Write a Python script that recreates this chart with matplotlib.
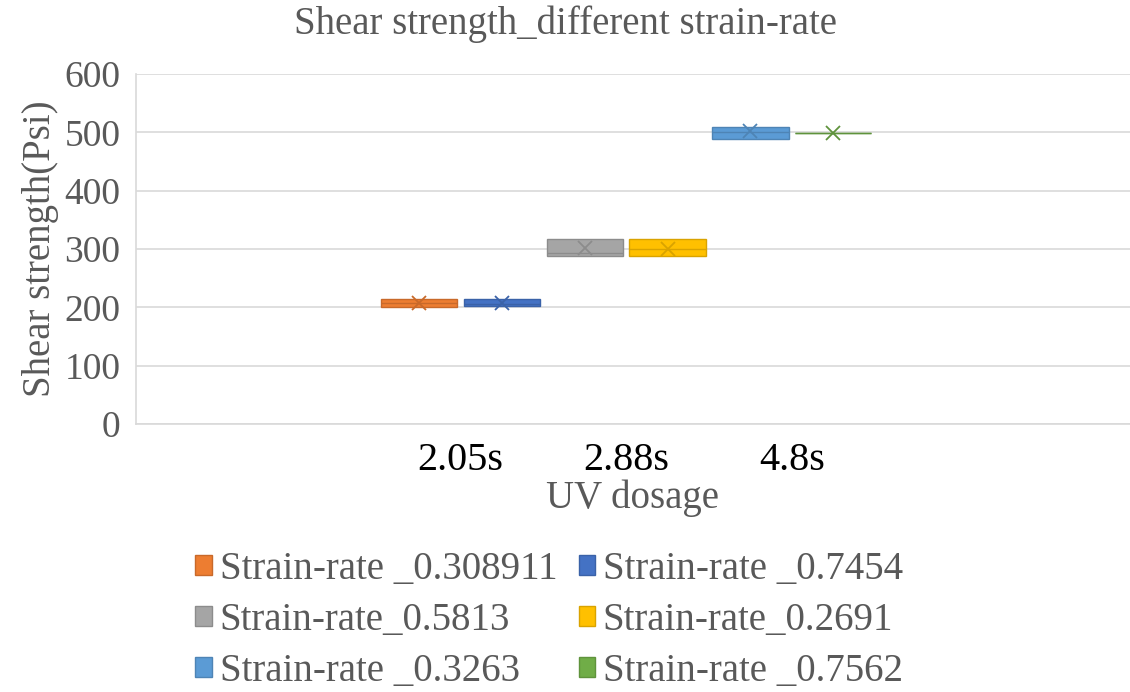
import numpy as np
import matplotlib.pyplot as plt
from matplotlib.patches import Patch

# UV dosage categories
categories = ["2.05s", "2.88s", "4.8s"]

# series (two strain-rates per UV dosage)
series = ["Strain-rate _0.308911", "Strain-rate _0.7454",
          "Strain-rate_0.5813", "Strain-rate_0.2691",
          "Strain-rate _0.3263", "Strain-rate _0.7562"]
series_cat = [0, 0, 1, 1, 2, 2]

# box statistics (Psi)
q1 = [201, 202, 288, 288, 489, 499]
median = [207, 206, 294, 300, 500, 499]
q3 = [214, 214, 317, 317, 510, 499]
mean = [207, 207, 302, 301, 502, 499]

colors = ["#ED7D31", "#4472C4", "#A5A5A5", "#FFC000", "#5B9BD5", "#70AD47"]
edges = ["#C8692A", "#3A62A8", "#8C8C8C", "#D9A300", "#4E84B5", "#5F933C"]

plt.rcParams['font.family'] = ['Liberation Serif', 'DejaVu Serif']
grey = "#595959"

fig = plt.figure(figsize=(11.3, 6.92), dpi=100)
ax = fig.add_axes([0.12, 0.387, 0.88, 0.506])

offsets = [-0.25, 0.25]
for i in range(len(series)):
    pos = 2 + series_cat[i] + offsets[i % 2]
    st = dict(q1=q1[i], med=median[i], q3=q3[i], whislo=q1[i], whishi=q3[i],
              mean=mean[i], fliers=[])
    ax.bxp([st], positions=[pos], widths=0.46, patch_artist=True, showmeans=True,
           showcaps=False,
           boxprops=dict(facecolor=colors[i], edgecolor=edges[i], linewidth=1.0),
           medianprops=dict(color=edges[i], linewidth=1.0),
           whiskerprops=dict(color=edges[i], linewidth=1.0),
           meanprops=dict(marker='x', markeredgecolor=edges[i], markersize=10,
                          markeredgewidth=1.3),
           zorder=3)

ax.set_xlim(0.04, 6.04)
ax.set_ylim(0, 600)
ax.set_yticks(np.arange(0, 601, 100))
ax.set_xticks([2, 3, 4])
ax.set_xticklabels(categories, fontsize=29, color='black')
ax.tick_params(axis='y', labelsize=27, labelcolor=grey, length=0, pad=11)
ax.tick_params(axis='x', length=0, pad=13)
ax.grid(axis='y', color='#D9D9D9', linewidth=1.2, zorder=0)
for s in ['top', 'right']:
    ax.spines[s].set_visible(False)
for s in ['left', 'bottom']:
    ax.spines[s].set_color('#D9D9D9')
    ax.spines[s].set_linewidth(1.2)

ax.set_xlabel("UV dosage", fontsize=28, color=grey, labelpad=0)
ax.set_ylabel("Shear strength(Psi)", fontsize=28, color=grey, labelpad=4)
fig.text(0.5, 0.965, "Shear strength_different strain-rate", ha='center', va='center',
         fontsize=28, color=grey)

handles = [Patch(facecolor=colors[i], edgecolor=edges[i]) for i in range(len(series))]
order = [0, 2, 4, 1, 3, 5]
fig.legend([handles[i] for i in order], [series[i] for i in order],
           loc='upper left', bbox_to_anchor=(0.173, 0.204), ncol=2, frameon=False,
           fontsize=28, labelcolor=grey, handlelength=0.42, handleheight=0.42,
           handletextpad=0.2, columnspacing=0.55, labelspacing=0.36, borderpad=0,
           borderaxespad=0)

fig.savefig("out.png", dpi=100)
